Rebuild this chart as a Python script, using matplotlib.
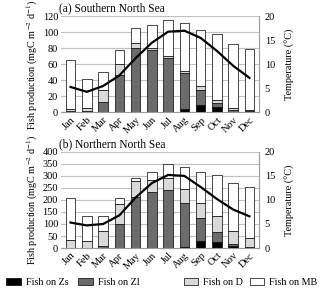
import numpy as np
import matplotlib.pyplot as plt

months = ['Jan', 'Feb', 'Mar', 'Apr', 'May', 'Jun', 'Jul', 'Aug', 'Sep', 'Oct', 'Nov', 'Dec']

# southern north sea (cumulative tops, converted below)
s_zs = [0, 0, 0, 0, 0, 0, 0, 4, 9, 7, 1, 0]
s_zl_top = [2, 2, 13, 47, 81, 78, 68, 49, 28, 12, 3, 2]
s_d_top = [4, 5, 28, 61, 87, 80, 71, 52, 33, 16, 6, 3]
s_total = [65, 42, 51, 78, 105, 109, 115, 112, 103, 98, 85, 79]
s_temp = [5.3, 4.3, 5.5, 7.7, 11.3, 14.5, 16.8, 17.0, 15.5, 12.8, 9.7, 7.2]

# northern north sea
n_zs = [0, 0, 0, 0, 0, 0, 0, 5, 30, 27, 10, 0]
n_zl_top = [2, 2, 8, 100, 212, 235, 240, 187, 123, 67, 17, 3]
n_d_top = [32, 28, 72, 182, 278, 283, 290, 247, 188, 132, 70, 42]
n_total = [207, 133, 133, 207, 293, 318, 348, 338, 315, 305, 270, 255]
n_temp = [5.3, 4.7, 5.0, 6.8, 10.5, 13.5, 15.2, 15.0, 12.7, 10.2, 8.0, 6.6]

plt.rcParams['font.family'] = ['Liberation Serif', 'DejaVu Serif']
plt.rcParams['mathtext.fontset'] = 'stix'
plt.rcParams['font.size'] = 7.5

colors = ['black', '#6b6b6b', '#d9d9d9', 'white']
names = ['Fish on Zs', 'Fish on Zl', 'Fish on D', 'Fish on MB']


def panel(ax, zs, zl_top, d_top, total, temp, ymax, ystep, title):
    x = np.arange(len(months))
    zs = np.array(zs)
    zl = np.array(zl_top) - zs
    d = np.array(d_top) - np.array(zl_top)
    mb = np.array(total) - np.array(d_top)
    bottom = np.zeros(len(months))
    bars = []
    for vals, c, nm in zip([zs, zl, d, mb], colors, names):
        b = ax.bar(x, vals, 0.58, bottom=bottom, color=c, edgecolor='black',
                   linewidth=0.5, label=nm, zorder=2)
        bars.append(b)
        bottom = bottom + vals
    ax.set_ylim(0, ymax)
    ax.set_yticks(np.arange(0, ymax + 1, ystep))
    ax.set_xlim(-0.6, 11.6)
    ax.set_xticks(x)
    ax.set_xticklabels(months, rotation=45, ha='right', rotation_mode='anchor')
    ax.yaxis.grid(True, color='#c0c0c0', linewidth=0.8, zorder=0)
    ax.set_axisbelow(True)
    for sp in ['top', 'left', 'right']:
        ax.spines[sp].set_visible(False)
    ax.spines['bottom'].set_color('#999999')
    ax.tick_params(length=0, pad=2)
    ax.set_ylabel('Fish production (mgC m$^{-2}$ d$^{-1}$)', fontsize=7.3, labelpad=2)
    ax.text(-0.01, 1.02, title, transform=ax.transAxes, fontsize=8.3, ha='left', va='bottom')

    ax2 = ax.twinx()
    ax2.plot(x, temp, color='black', linewidth=1.6, zorder=3)
    ax2.set_ylim(0, 20)
    ax2.set_yticks([0, 5, 10, 15, 20])
    for sp in ['top', 'left', 'bottom']:
        ax2.spines[sp].set_visible(False)
    ax2.spines['right'].set_color('#999999')
    ax2.tick_params(length=0, pad=4)
    ax2.set_ylabel('Temperature (°C)', fontsize=7.3, labelpad=7)
    return bars


fig = plt.figure(figsize=(3.2, 2.96), dpi=100)
ax1 = fig.add_axes([0.19, 0.62, 0.62, 0.325])
ax3 = fig.add_axes([0.19, 0.162, 0.62, 0.325])

panel(ax1, s_zs, s_zl_top, s_d_top, s_total, s_temp, 120, 20, '(a) Southern North Sea')
bars = panel(ax3, n_zs, n_zl_top, n_d_top, n_total, n_temp, 400, 50, '(b) Northern North Sea')

xs = [0.02, 0.245, 0.575, 0.78]
for b, nm, xp in zip(bars, names, xs):
    fig.legend([b], [nm], loc='center left', bbox_to_anchor=(xp, 0.045), frameon=False,
               fontsize=7.3, handlelength=1.4, handleheight=0.6, handletextpad=0.5,
               borderaxespad=0, borderpad=0)

fig.savefig('out.png', dpi=100)
